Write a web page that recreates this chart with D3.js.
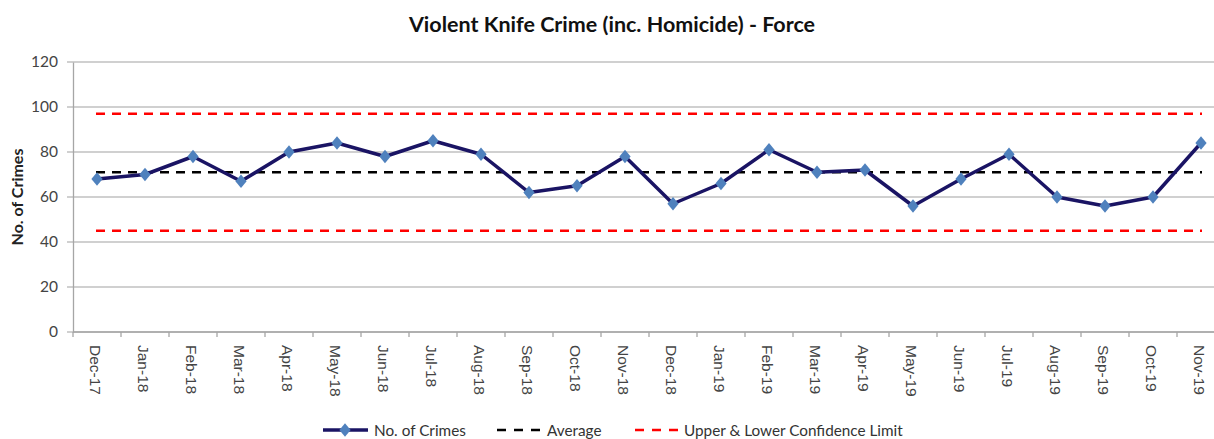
<!DOCTYPE html>
<html>
<head>
<meta charset="utf-8">
<script src="https://cdn.jsdelivr.net/npm/d3@7"></script>
<style>
	body { margin: 0; background: #fff; }
	svg { display: block; font-family: Lato, "Open Sans", sans-serif; }
</style>
</head>
<body>
<div id="app"></div>
<script>
const months = ['Dec-17', 'Jan-18', 'Feb-18', 'Mar-18', 'Apr-18', 'May-18', 'Jun-18', 'Jul-18', 'Aug-18', 'Sep-18', 'Oct-18', 'Nov-18',
	'Dec-18', 'Jan-19', 'Feb-19', 'Mar-19', 'Apr-19', 'May-19', 'Jun-19', 'Jul-19', 'Aug-19', 'Sep-19', 'Oct-19', 'Nov-19'];
const crimes = [68, 70, 78, 67, 80, 84, 78, 85, 79, 62, 65, 78, 57, 66, 81, 71, 72, 56, 68, 79, 60, 56, 60, 84];
const average = 71;
const upperLimit = 97;
const lowerLimit = 45;
const yTicks = [0, 20, 40, 60, 80, 100, 120];

const width = 1214;
const height = 439;
const margin = {top: 62, right: -11, bottom: 107, left: 73};

const svg = d3.select('#app').append('svg')
	.attr('width', width)
	.attr('height', height);

const x = d3.scaleBand()
	.domain(months)
	.range([margin.left, width - margin.right]);

const y = d3.scaleLinear()
	.domain([0, 120])
	.range([height - margin.bottom, margin.top]);

const cx = (m) => x(m) + x.bandwidth() / 2;

// title
svg.append('text')
	.attr('x', 612)
	.attr('y', 32)
	.attr('text-anchor', 'middle')
	.attr('font-size', 21.5)
	.attr('font-weight', 'bold')
	.attr('fill', '#111')
	.text('Violent Knife Crime (inc. Homicide) - Force');

// gridlines
svg.append('g')
	.selectAll('line')
	.data(yTicks)
	.enter()
	.append('line')
	.attr('x1', margin.left - 6)
	.attr('x2', width)
	.attr('y1', (d) => y(d))
	.attr('y2', (d) => y(d))
	.attr('stroke', '#c0c0c0')
	.attr('stroke-width', 1.3);

// y axis
const yAxis = svg.append('g')
	.attr('transform', `translate(${margin.left},0)`)
	.call(d3.axisLeft(y).tickValues(yTicks).tickSize(0).tickPadding(15));
yAxis.select('.domain').attr('stroke', '#a6a6a6').attr('stroke-width', 1.3);
yAxis.selectAll('text').attr('font-size', 15.5).attr('fill', '#444').attr('font-family', 'Lato, sans-serif');

svg.append('text')
	.attr('transform', `translate(23,${y(60)}) rotate(-90)`)
	.attr('text-anchor', 'middle')
	.attr('font-size', 16)
	.attr('font-weight', 'bold')
	.attr('fill', '#222')
	.text('No. of Crimes');

// x axis
const xAxis = svg.append('g')
	.attr('transform', `translate(0,${y(0)})`)
	.call(d3.axisBottom(x).tickSize(0).tickFormat(''));
xAxis.select('.domain').remove();
xAxis.append('line')
	.attr('x1', margin.left)
	.attr('x2', width)
	.attr('stroke', '#a6a6a6')
	.attr('stroke-width', 1.3);
xAxis.selectAll('.tickmark')
	.data(months)
	.enter()
	.append('line')
	.attr('x1', (d) => x(d))
	.attr('x2', (d) => x(d))
	.attr('y1', 0)
	.attr('y2', 5)
	.attr('stroke', '#a6a6a6')
	.attr('stroke-width', 1.3);
xAxis.selectAll('.label')
	.data(months)
	.enter()
	.append('text')
	.attr('transform', (d) => `translate(${cx(d) - 7},13) rotate(90)`)
	.attr('text-anchor', 'start')
	.attr('font-size', 15.5)
	.attr('fill', '#444')
	.text((d) => d);

// limit lines
const xFirst = cx(months[0]) - 1;
const xLast = cx(months[months.length - 1]) + 1;
const refLines = [
	{value: upperLimit, color: '#ff0000'},
	{value: lowerLimit, color: '#ff0000'},
	{value: average, color: '#000000'},
];
svg.append('g')
	.selectAll('line')
	.data(refLines)
	.enter()
	.append('line')
	.attr('x1', xFirst)
	.attr('x2', xLast)
	.attr('y1', (d) => y(d.value))
	.attr('y2', (d) => y(d.value))
	.attr('stroke', (d) => d.color)
	.attr('stroke-width', 2.5)
	.attr('stroke-dasharray', '9,7');

// series line
const line = d3.line()
	.x((d, i) => cx(months[i]))
	.y((d) => y(d));

svg.append('path')
	.datum(crimes)
	.attr('d', line)
	.attr('fill', 'none')
	.attr('stroke', '#1a1464')
	.attr('stroke-width', 3.5)
	.attr('stroke-linejoin', 'round');

const diamond = d3.symbol().type(d3.symbolDiamond).size(52);
svg.append('g')
	.selectAll('path')
	.data(crimes)
	.enter()
	.append('path')
	.attr('d', diamond)
	.attr('transform', (d, i) => `translate(${cx(months[i])},${y(d)}) scale(1.45,1)`)
	.attr('fill', '#4f81bd');

// legend
const legend = svg.append('g').attr('transform', 'translate(0,430)');
legend.append('line')
	.attr('x1', 323).attr('x2', 368).attr('y1', 0).attr('y2', 0)
	.attr('stroke', '#1a1464').attr('stroke-width', 3.5);
legend.append('path')
	.attr('d', diamond)
	.attr('transform', 'translate(345,0) scale(1.45,1)')
	.attr('fill', '#4f81bd');
legend.append('text').attr('x', 374).attr('y', 5.5).attr('font-size', 15.3).attr('fill', '#333').text('No. of Crimes');

legend.append('line')
	.attr('x1', 497).attr('x2', 541).attr('y1', 0).attr('y2', 0)
	.attr('stroke', '#000').attr('stroke-width', 2.5).attr('stroke-dasharray', '9,8');
legend.append('text').attr('x', 547).attr('y', 5.5).attr('font-size', 15.3).attr('fill', '#333').text('Average');

legend.append('line')
	.attr('x1', 635).attr('x2', 679).attr('y1', 0).attr('y2', 0)
	.attr('stroke', '#ff0000').attr('stroke-width', 2.5).attr('stroke-dasharray', '9,8');
legend.append('text').attr('x', 684).attr('y', 5.5).attr('font-size', 15.3).attr('fill', '#333').text('Upper & Lower Confidence Limit');
</script>
</body>
</html>
